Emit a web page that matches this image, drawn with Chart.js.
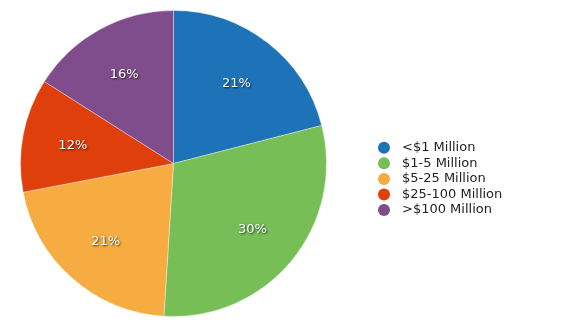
<!DOCTYPE html>
<html>
<head>
<meta charset="utf-8">
<script src="https://cdn.jsdelivr.net/npm/chart.js@4/dist/chart.umd.min.js"></script>
<style>
  html, body { margin: 0; padding: 0; background: #fff; }
  #wrap { position: relative; width: 580px; height: 331px; }
</style>
</head>
<body>
<div id="wrap"><canvas id="myChart" width="580" height="331"></canvas></div>
<script>
//data
const categories = ['<$1 Million', '$1-5 Million', '$5-25 Million', '$25-100 Million', '>$100 Million'];
const shares = [21, 30, 21, 12, 16];
const colors = ['#1e73b8', '#77be56', '#f7ac41', '#df3f0a', '#7f4d8c'];

const FONT = '"DejaVu Sans", Verdana, sans-serif';

//percent labels inside each slice
const sliceLabels = {
  id: 'sliceLabels',
  afterDatasetsDraw(chart) {
    const ctx = chart.ctx;
    const meta = chart.getDatasetMeta(0);
    ctx.save();
    ctx.font = '13px ' + FONT;
    ctx.textAlign = 'center';
    ctx.textBaseline = 'middle';
    meta.data.forEach((arc, i) => {
      const mid = (arc.startAngle + arc.endAngle) / 2;
      const r = arc.outerRadius * 0.67;
      const x = arc.x + Math.cos(mid) * r;
      const y = arc.y + Math.sin(mid) * r + 1;
      ctx.shadowColor = 'rgba(0,0,0,0.75)';
      ctx.shadowBlur = 2;
      ctx.shadowOffsetX = 1;
      ctx.shadowOffsetY = 1;
      ctx.fillStyle = '#fff';
      ctx.fillText(shares[i] + '%', x, y);
    });
    ctx.restore();
  }
};

//legend on the right
const sideLegend = {
  id: 'sideLegend',
  afterDraw(chart) {
    const ctx = chart.ctx;
    ctx.save();
    ctx.font = '13px ' + FONT;
    ctx.textBaseline = 'middle';
    categories.forEach((name, i) => {
      const y = 147.7 + i * 15.6;
      ctx.beginPath();
      ctx.arc(384, y, 6, 0, Math.PI * 2);
      ctx.fillStyle = colors[i];
      ctx.fill();
      ctx.fillStyle = '#222';
      ctx.fillText(name, 402, y);
    });
    ctx.restore();
  }
};

const ctx = document.getElementById('myChart').getContext('2d');
window.myChart = new Chart(ctx, {
  type: 'pie',
  data: {
    labels: categories,
    datasets: [{
      data: shares,
      backgroundColor: colors,
      borderColor: 'rgba(255,255,255,0.35)',
      borderWidth: 1
    }]
  },
  options: {
    responsive: false,
    animation: false,
    layout: { padding: { left: 20, top: 10, right: 253, bottom: 14 } },
    plugins: {
      legend: { display: false },
      tooltip: { enabled: false }
    }
  },
  plugins: [sliceLabels, sideLegend]
});
</script>
</body>
</html>
